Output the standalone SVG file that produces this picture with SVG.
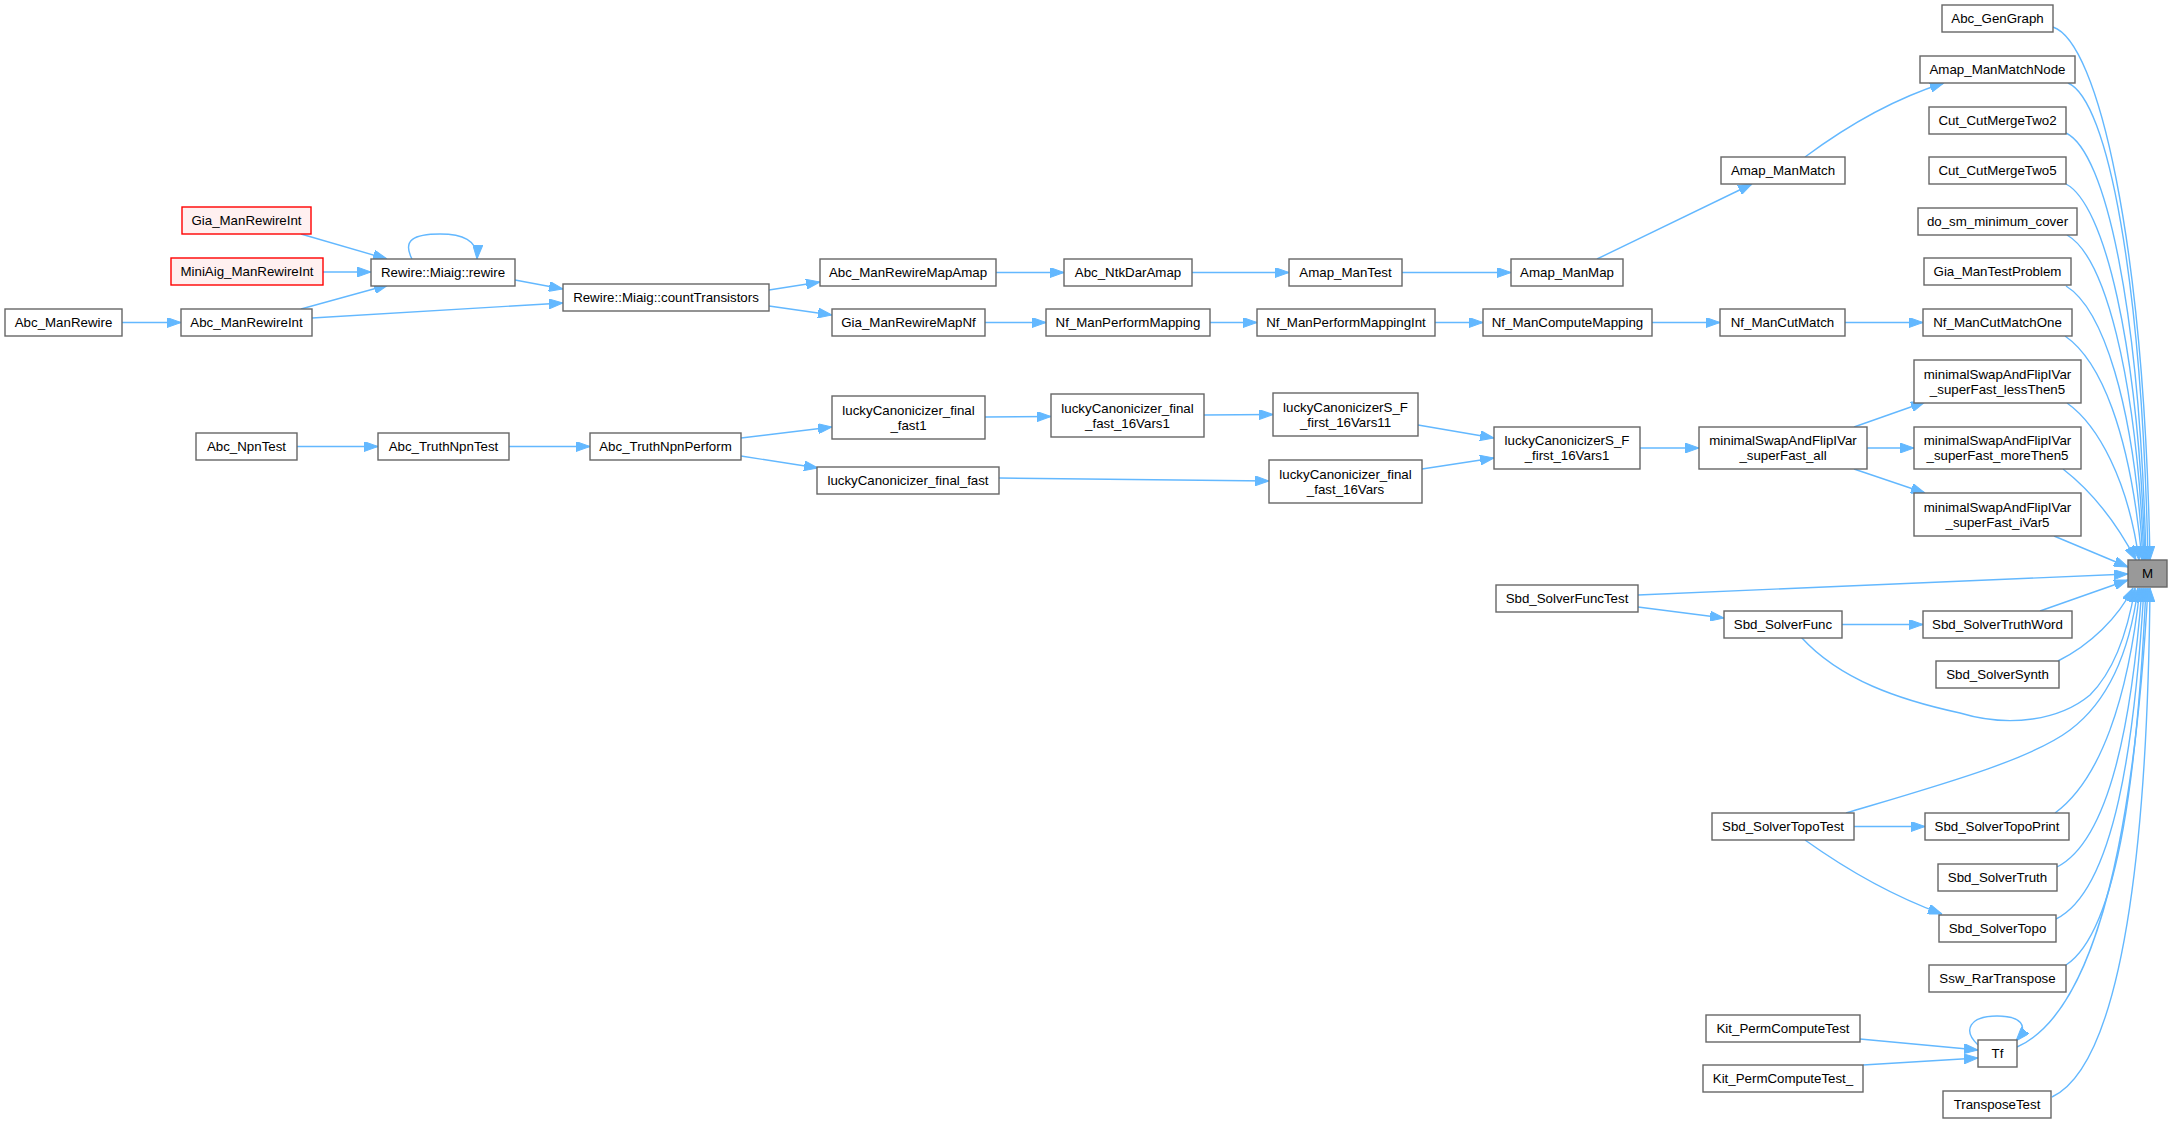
<svg xmlns="http://www.w3.org/2000/svg" width="2172" height="1123" viewBox="0 0 2172 1123">
<style>
.n rect{fill:#ffffff;stroke:#666666;stroke-width:1.4}
.r rect{fill:#fff0f0;stroke:#ff0000;stroke-width:1.4}
.h rect{fill:#999999;stroke:#666666;stroke-width:1.4}
text{font-family:"Liberation Sans",Arial,Helvetica,sans-serif;font-size:13.3px;fill:#000000;text-anchor:middle}
.e path{fill:none;stroke:#63b8ff;stroke-width:1.4}
</style>
<defs>
<marker id="a" markerWidth="14" markerHeight="10" refX="14" refY="5" orient="auto" markerUnits="userSpaceOnUse"><path d="M0,0 L14,5 L0,10 z" fill="#63b8ff" stroke="#63b8ff" stroke-width="1"/></marker>
</defs>
<rect width="2172" height="1123" fill="#ffffff"/>
<g class="e" id="edges">
<path marker-end="url(#a)" d="M122,322.5 L181,322.5"/>
<path marker-end="url(#a)" d="M301,309 L388,285"/>
<path marker-end="url(#a)" d="M312,318 L563,303"/>
<path marker-end="url(#a)" d="M301,234 L387,259"/>
<path marker-end="url(#a)" d="M323,272 L371,272"/>
<path marker-end="url(#a)" d="M412,259 C402,240 414,234 440,234 C462,234 478,240 477,259"/>
<path marker-end="url(#a)" d="M515,280 L563,289"/>
<path marker-end="url(#a)" d="M769,290 L820,282"/>
<path marker-end="url(#a)" d="M769,306 L832,315"/>
<path marker-end="url(#a)" d="M996,272.5 L1064,272.5"/>
<path marker-end="url(#a)" d="M1192,272.5 L1289,272.5"/>
<path marker-end="url(#a)" d="M1402,272.5 L1511,272.5"/>
<path marker-end="url(#a)" d="M1597,259 L1752,184"/>
<path marker-end="url(#a)" d="M1805,157 C1840,131 1890,100 1944,83"/>
<path marker-end="url(#a)" d="M985,322.5 L1046,322.5"/>
<path marker-end="url(#a)" d="M1210,322.5 L1257,322.5"/>
<path marker-end="url(#a)" d="M1435,322.5 L1483,322.5"/>
<path marker-end="url(#a)" d="M1652,322.5 L1720,322.5"/>
<path marker-end="url(#a)" d="M1845,322.5 L1923,322.5"/>
<path marker-end="url(#a)" d="M297,446.5 L378,446.5"/>
<path marker-end="url(#a)" d="M509,446.5 L590,446.5"/>
<path marker-end="url(#a)" d="M741,438 L832,427"/>
<path marker-end="url(#a)" d="M741,456 L818,468"/>
<path marker-end="url(#a)" d="M985,417 L1051,416.5"/>
<path marker-end="url(#a)" d="M1204,415 L1273,414.5"/>
<path marker-end="url(#a)" d="M1418,425 L1494,438"/>
<path marker-end="url(#a)" d="M999,478 L1269,481"/>
<path marker-end="url(#a)" d="M1422,469 L1494,458"/>
<path marker-end="url(#a)" d="M1640,448 L1699,448"/>
<path marker-end="url(#a)" d="M1854,427 L1925,402"/>
<path marker-end="url(#a)" d="M1867,448 L1914,448"/>
<path marker-end="url(#a)" d="M1854,469 L1925,493"/>
<path marker-end="url(#a)" d="M2053,27 C2098,42 2144,239 2150,560"/>
<path marker-end="url(#a)" d="M2068,83 C2108,100 2142,280 2148,560"/>
<path marker-end="url(#a)" d="M2066,133 C2106,152 2140,310 2146,560"/>
<path marker-end="url(#a)" d="M2066,184 C2104,204 2138,340 2145,560"/>
<path marker-end="url(#a)" d="M2067,235 C2104,256 2136,370 2144,560"/>
<path marker-end="url(#a)" d="M2066,286 C2102,308 2134,400 2143,560"/>
<path marker-end="url(#a)" d="M2065,336 C2100,360 2130,430 2142,560"/>
<path marker-end="url(#a)" d="M2067,403 C2098,425 2128,480 2139,560"/>
<path marker-end="url(#a)" d="M2063,469 C2090,490 2115,520 2136,560"/>
<path marker-end="url(#a)" d="M2054,536 L2128,567"/>
<path marker-end="url(#a)" d="M1638,595 L2128,574"/>
<path marker-end="url(#a)" d="M1638,607 L1724,618"/>
<path marker-end="url(#a)" d="M1842,624.5 L1923,624.5"/>
<path marker-end="url(#a)" d="M2040,611 L2128,580"/>
<path marker-end="url(#a)" d="M1801,637 C1840,680 1900,700 1960,713 C2010,728 2060,720 2090,695 C2115,670 2128,630 2135,588"/>
<path marker-end="url(#a)" d="M2058,661 C2090,645 2118,618 2133,588"/>
<path marker-end="url(#a)" d="M1846,813 C1940,785 2030,760 2070,730 C2110,700 2130,650 2138,588"/>
<path marker-end="url(#a)" d="M1854,826.5 L1925,826.5"/>
<path marker-end="url(#a)" d="M1805,840 C1840,865 1890,895 1942,914"/>
<path marker-end="url(#a)" d="M2055,813 C2100,780 2128,700 2140,588"/>
<path marker-end="url(#a)" d="M2057,867 C2110,840 2132,720 2142,588"/>
<path marker-end="url(#a)" d="M2056,919 C2115,890 2135,740 2144,588"/>
<path marker-end="url(#a)" d="M2066,965 C2120,930 2138,760 2146,588"/>
<path marker-end="url(#a)" d="M2017,1047 C2100,1010 2135,820 2148,588"/>
<path marker-end="url(#a)" d="M2052,1097 C2130,1060 2148,800 2150,588"/>
<path marker-end="url(#a)" d="M1860,1039 L1978,1050"/>
<path marker-end="url(#a)" d="M1863,1065 L1978,1058"/>
<path marker-end="url(#a)" d="M1978,1045 C1962,1030 1970,1016 1997,1016 C2020,1016 2030,1025 2016,1041"/>
</g>
<g id="n1" class="n"><rect x="1942" y="5" width="111" height="27"/><text x="1997.5" y="23">Abc_GenGraph</text></g>
<g id="n2" class="n"><rect x="1920" y="56" width="155" height="27"/><text x="1997.5" y="74">Amap_ManMatchNode</text></g>
<g id="n3" class="n"><rect x="1929" y="107" width="137" height="27"/><text x="1997.5" y="125">Cut_CutMergeTwo2</text></g>
<g id="n4" class="n"><rect x="1929" y="157" width="137" height="27"/><text x="1997.5" y="175">Cut_CutMergeTwo5</text></g>
<g id="n5" class="n"><rect x="1918" y="208" width="159" height="27"/><text x="1997.5" y="226">do_sm_minimum_cover</text></g>
<g id="n6" class="n"><rect x="1924" y="258" width="147" height="27"/><text x="1997.5" y="276">Gia_ManTestProblem</text></g>
<g id="n7" class="n"><rect x="1923" y="309" width="149" height="27"/><text x="1997.5" y="327">Nf_ManCutMatchOne</text></g>
<g id="n8" class="n"><rect x="1914" y="360" width="167" height="43"/><text x="1997.5" y="378.5">minimalSwapAndFlipIVar</text><text x="1997.5" y="393.5">_superFast_lessThen5</text></g>
<g id="n9" class="n"><rect x="1914" y="427" width="167" height="42"/><text x="1997.5" y="445">minimalSwapAndFlipIVar</text><text x="1997.5" y="460">_superFast_moreThen5</text></g>
<g id="n10" class="n"><rect x="1914" y="493" width="167" height="43"/><text x="1997.5" y="511.5">minimalSwapAndFlipIVar</text><text x="1997.5" y="526.5">_superFast_iVar5</text></g>
<g id="n11" class="h"><rect x="2128" y="560" width="39" height="27"/><text x="2147.5" y="578">M</text></g>
<g id="n12" class="n"><rect x="1923" y="611" width="149" height="27"/><text x="1997.5" y="629">Sbd_SolverTruthWord</text></g>
<g id="n13" class="n"><rect x="1936" y="661" width="123" height="27"/><text x="1997.5" y="679">Sbd_SolverSynth</text></g>
<g id="n14" class="n"><rect x="1925" y="813" width="144" height="27"/><text x="1997" y="831">Sbd_SolverTopoPrint</text></g>
<g id="n15" class="n"><rect x="1938" y="864" width="119" height="27"/><text x="1997.5" y="882">Sbd_SolverTruth</text></g>
<g id="n16" class="n"><rect x="1939" y="915" width="117" height="27"/><text x="1997.5" y="933">Sbd_SolverTopo</text></g>
<g id="n17" class="n"><rect x="1929" y="965" width="137" height="27"/><text x="1997.5" y="983">Ssw_RarTranspose</text></g>
<g id="n18" class="n"><rect x="1978" y="1040" width="39" height="27"/><text x="1997.5" y="1058">Tf</text></g>
<g id="n19" class="n"><rect x="1943" y="1091" width="108" height="27"/><text x="1997" y="1109">TransposeTest</text></g>
<g id="n20" class="n"><rect x="1706" y="1015" width="154" height="27"/><text x="1783" y="1033">Kit_PermComputeTest</text></g>
<g id="n21" class="n"><rect x="1703" y="1065" width="160" height="27"/><text x="1783" y="1083">Kit_PermComputeTest_</text></g>
<g id="n22" class="n"><rect x="1712" y="813" width="142" height="27"/><text x="1783" y="831">Sbd_SolverTopoTest</text></g>
<g id="n23" class="n"><rect x="1496" y="585" width="142" height="27"/><text x="1567" y="603">Sbd_SolverFuncTest</text></g>
<g id="n24" class="n"><rect x="1724" y="611" width="118" height="27"/><text x="1783" y="629">Sbd_SolverFunc</text></g>
<g id="n25" class="n"><rect x="1699" y="427" width="168" height="42"/><text x="1783" y="445">minimalSwapAndFlipIVar</text><text x="1783" y="460">_superFast_all</text></g>
<g id="n26" class="n"><rect x="1494" y="427" width="146" height="42"/><text x="1567" y="445">luckyCanonicizerS_F</text><text x="1567" y="460">_first_16Vars1</text></g>
<g id="n27" class="n"><rect x="1273" y="393" width="145" height="43"/><text x="1345.5" y="411.5">luckyCanonicizerS_F</text><text x="1345.5" y="426.5">_first_16Vars11</text></g>
<g id="n28" class="n"><rect x="1269" y="460" width="153" height="43"/><text x="1345.5" y="478.5">luckyCanonicizer_final</text><text x="1345.5" y="493.5">_fast_16Vars</text></g>
<g id="n29" class="n"><rect x="1051" y="394" width="153" height="43"/><text x="1127.5" y="412.5">luckyCanonicizer_final</text><text x="1127.5" y="427.5">_fast_16Vars1</text></g>
<g id="n30" class="n"><rect x="832" y="396" width="153" height="43"/><text x="908.5" y="414.5">luckyCanonicizer_final</text><text x="908.5" y="429.5">_fast1</text></g>
<g id="n31" class="n"><rect x="817" y="467" width="182" height="27"/><text x="908" y="485">luckyCanonicizer_final_fast</text></g>
<g id="n32" class="n"><rect x="590" y="433" width="151" height="27"/><text x="665.5" y="451">Abc_TruthNpnPerform</text></g>
<g id="n33" class="n"><rect x="378" y="433" width="131" height="27"/><text x="443.5" y="451">Abc_TruthNpnTest</text></g>
<g id="n34" class="n"><rect x="196" y="433" width="101" height="27"/><text x="246.5" y="451">Abc_NpnTest</text></g>
<g id="n35" class="n"><rect x="1720" y="309" width="125" height="27"/><text x="1782.5" y="327">Nf_ManCutMatch</text></g>
<g id="n36" class="n"><rect x="1483" y="309" width="169" height="27"/><text x="1567.5" y="327">Nf_ManComputeMapping</text></g>
<g id="n37" class="n"><rect x="1257" y="309" width="178" height="27"/><text x="1346" y="327">Nf_ManPerformMappingInt</text></g>
<g id="n38" class="n"><rect x="1046" y="309" width="164" height="27"/><text x="1128" y="327">Nf_ManPerformMapping</text></g>
<g id="n39" class="n"><rect x="832" y="309" width="153" height="27"/><text x="908.5" y="327">Gia_ManRewireMapNf</text></g>
<g id="n40" class="n"><rect x="820" y="259" width="176" height="27"/><text x="908" y="277">Abc_ManRewireMapAmap</text></g>
<g id="n41" class="n"><rect x="1064" y="259" width="128" height="27"/><text x="1128" y="277">Abc_NtkDarAmap</text></g>
<g id="n42" class="n"><rect x="1289" y="259" width="113" height="27"/><text x="1345.5" y="277">Amap_ManTest</text></g>
<g id="n43" class="n"><rect x="1511" y="259" width="112" height="27"/><text x="1567" y="277">Amap_ManMap</text></g>
<g id="n44" class="n"><rect x="1721" y="157" width="124" height="27"/><text x="1783" y="175">Amap_ManMatch</text></g>
<g id="n45" class="n"><rect x="563" y="284" width="206" height="27"/><text x="666" y="302">Rewire::Miaig::countTransistors</text></g>
<g id="n46" class="n"><rect x="371" y="259" width="144" height="27"/><text x="443" y="277">Rewire::Miaig::rewire</text></g>
<g id="n47" class="r"><rect x="182" y="207" width="129" height="27"/><text x="246.5" y="225">Gia_ManRewireInt</text></g>
<g id="n48" class="r"><rect x="171" y="258" width="152" height="27"/><text x="247" y="276">MiniAig_ManRewireInt</text></g>
<g id="n49" class="n"><rect x="181" y="309" width="131" height="27"/><text x="246.5" y="327">Abc_ManRewireInt</text></g>
<g id="n50" class="n"><rect x="5" y="309" width="117" height="27"/><text x="63.5" y="327">Abc_ManRewire</text></g>
</svg>
